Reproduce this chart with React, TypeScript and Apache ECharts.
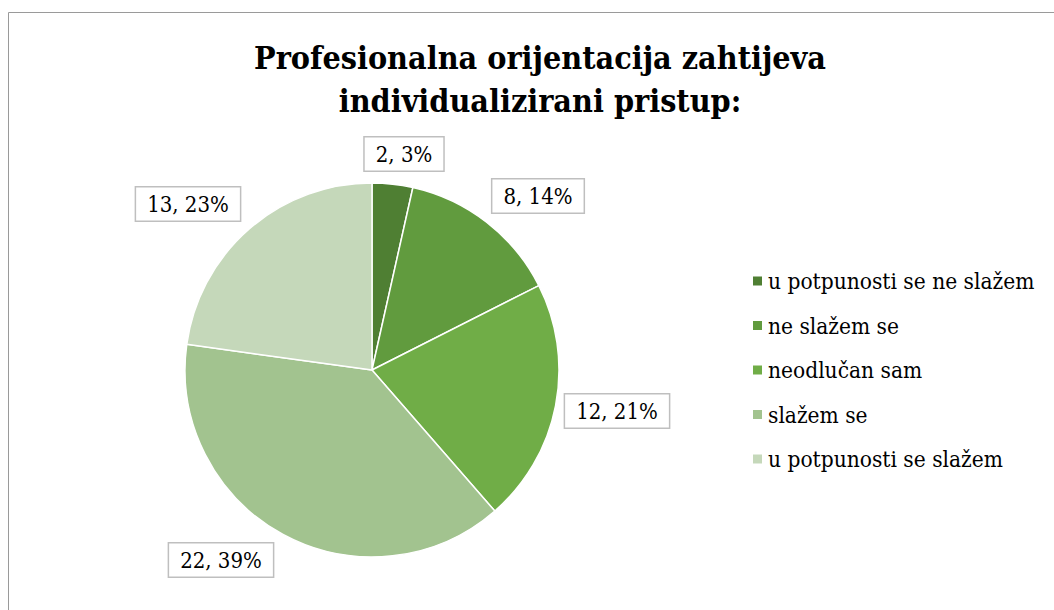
import React, { useEffect, useRef } from "react";
import * as echarts from "echarts";

const categories = [
  "u potpunosti se ne slažem",
  "ne slažem se",
  "neodlučan sam",
  "slažem se",
  "u potpunosti se slažem",
];
const values = [2, 8, 12, 22, 13];
const percents = ["3%", "14%", "21%", "39%", "23%"];
const colors = ["#4f7f33", "#619b3e", "#70ad47", "#a2c38f", "#c5d8ba"];
const titleText = "Profesionalna orijentacija zahtijeva\nindividualizirani pristup:";

// label box centres (layout only)
const labelCenters: [number, number][] = [
  [404, 154],
  [538, 196],
  [617, 411],
  [221, 560],
  [188, 204],
];

const FONT = "DejaVu Serif Condensed";

export default function App() {
  const ref = useRef<HTMLDivElement>(null);
  useEffect(() => {
    if (!ref.current) return;
    const chart = echarts.init(ref.current, undefined, { renderer: "svg" });
    chart.setOption({
      animation: false,
      backgroundColor: "#ffffff",
      textStyle: { fontFamily: FONT },
      title: {
        text: titleText,
        left: 535,
        top: 31,
        textAlign: "center",
        textStyle: {
          fontFamily: FONT,
          fontSize: 32,
          fontWeight: "bold",
          color: "#000",
          lineHeight: 43,
        },
      },
      graphic: [
        {
          type: "rect",
          shape: { x: 8.5, y: 12.5, width: 1200, height: 800 },
          style: { fill: "none", stroke: "#9a9a9a", lineWidth: 1 },
          silent: true,
        },
      ],
      legend: {
        orient: "vertical",
        left: 746,
        top: 264,
        itemWidth: 11,
        itemHeight: 11,
        itemGap: 20.5,
        icon: "rect",
        data: categories,
        textStyle: {
          fontFamily: FONT,
          fontSize: 22.5,
          color: "#000",
          lineHeight: 24,
        },
      },
      series: [
        {
          type: "pie",
          center: [372, 370],
          radius: [0, 187],
          startAngle: 90,
          clockwise: true,
          avoidLabelOverlap: false,
          itemStyle: { borderColor: "#ffffff", borderWidth: 1.5 },
          label: {
            show: true,
            position: "outside",
            formatter: (p: any) => `${p.value}, ${percents[p.dataIndex]}`,
            fontFamily: FONT,
            fontSize: 22,
            color: "#000",
            backgroundColor: "#ffffff",
            borderColor: "#bfbfbf",
            borderWidth: 1.5,
            padding: [6, 11, 5, 11],
          },
          labelLine: { show: false },
          labelLayout: (params: any) => {
            const c = labelCenters[params.dataIndex];
            return { x: c[0], y: c[1], align: "center", verticalAlign: "middle" };
          },
          emphasis: { disabled: true },
          data: categories.map((name, i) => ({
            name,
            value: values[i],
            itemStyle: { color: colors[i] },
          })),
        },
      ],
    });
    return () => chart.dispose();
  }, []);
  return (
    <div
      ref={ref}
      style={{ position: "absolute", left: 0, top: 0, width: 1054, height: 610 }}
    />
  );
}
